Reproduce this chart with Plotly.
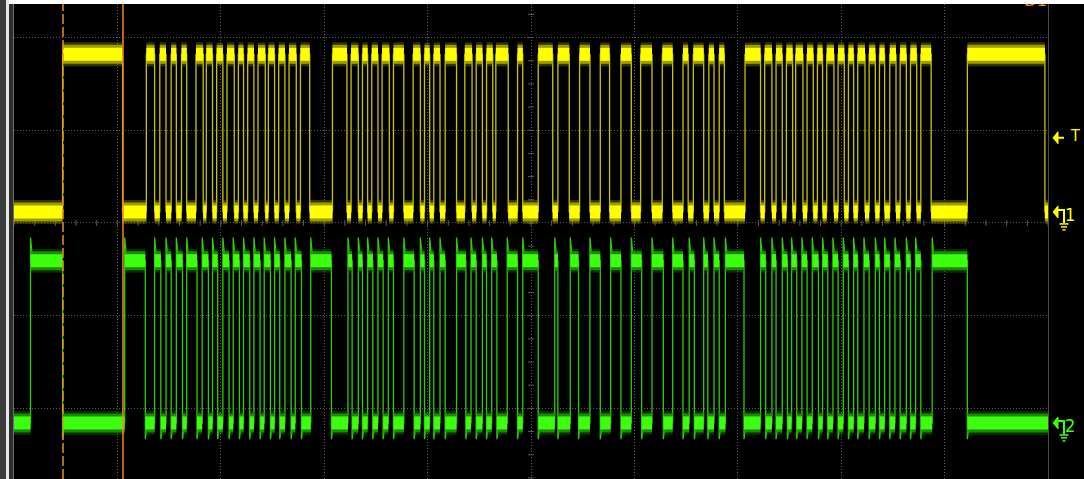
import plotly.graph_objects as go

# ---------------- data (time in µs, 100 µs/div; levels in volts) ----------------
# Channel 1 (yellow) edge times
ch1_rise_us = [47, 128, 141, 152, 162, 176, 186, 196, 206, 217,
               226, 236, 246, 256, 266, 277, 308, 326, 337, 346,
               356, 367, 386, 397, 406, 417, 436, 447, 457, 466,
               487, 507, 526, 547, 567, 587, 606, 627, 647, 657,
               672, 682, 707, 726, 737, 747, 756, 767, 777, 786,
               797, 807, 816, 827, 837, 847, 857, 867, 877, 922]
ch1_fall_us = [105, 136, 147, 157, 167, 183, 192, 202, 213, 222,
               232, 243, 252, 262, 273, 286, 322, 333, 342, 352,
               363, 377, 393, 402, 412, 428, 443, 453, 463, 478,
               492, 521, 537, 557, 576, 597, 617, 637, 652, 667,
               677, 687, 722, 733, 743, 753, 763, 773, 782, 793,
               803, 812, 823, 833, 842, 853, 863, 873, 887, 997]
# Channel 2 (green) edge times
ch2_rise_us = [16, 107, 136, 147, 157, 167, 182, 192, 202, 212,
               222, 232, 242, 252, 262, 272, 287, 323, 333, 342,
               352, 362, 377, 393, 402, 412, 428, 442, 453, 462,
               477, 492, 523, 538, 557, 577, 597, 617, 637, 653,
               667, 677, 688, 722, 733, 743, 752, 762, 772, 782,
               792, 802, 812, 822, 833, 842, 852, 863, 872, 888]
ch2_fall_us = [47, 127, 142, 152, 163, 177, 188, 197, 208, 218,
               228, 238, 248, 257, 268, 278, 307, 327, 337, 347,
               357, 367, 387, 397, 406, 417, 437, 447, 457, 467,
               487, 507, 526, 546, 567, 587, 607, 628, 647, 658,
               671, 682, 706, 727, 737, 748, 757, 767, 778, 787,
               797, 807, 816, 827, 837, 847, 857, 867, 877, 922]

ch1_levels_v = [0.0, 3.4]        # low, high
ch2_levels_v = [0.0, 3.5]        # low, high
ch2_ringing_v = [0.35, 0.5]      # undershoot on fall, overshoot on rise
cursor_us = [47.4, 105.4]
trigger_level_v = 1.6
record_us = [0, 1000]

# ---------------- scope settings ----------------
VOLTS_PER_DIV = 2.0
CH1_OFFSET_DIV = 0.119
CH2_OFFSET_DIV = -2.157
Y_RANGE = [-2.762, 2.362]
X_RANGE = [0, 1000]

W, H = 1084, 479
ML, MR, MT, MB = 14, 36, 4, 0
PW, PH = W - ML - MR, H - MT - MB
PX_PER_DIV_Y = PH / (Y_RANGE[1] - Y_RANGE[0])
PX_PER_US = PW / (X_RANGE[1] - X_RANGE[0])

YEL = "#ffff00"
YEL_HALO = "rgba(150,150,0,0.35)"
YEL_FRINGE = "rgba(175,175,0,0.85)"
YEL_EDGE = "#c9c400"
GRN = "#3cff10"
GRN_HALO = "rgba(25,130,0,0.35)"
GRN_FRINGE = "rgba(30,155,0,0.85)"
GRN_EDGE = "#2ccf00"
ORANGE = "#f28a1e"
GRID = "#5a5a5a"


def to_div(v, off):
    return off + v / VOLTS_PER_DIV


def build(rises, falls, levels, off, ringing=(0.0, 0.0), ramp=2.0):
    lo, hi = to_div(levels[0], off), to_div(levels[1], off)
    us_, os_ = ringing[0] / VOLTS_PER_DIV, ringing[1] / VOLTS_PER_DIV
    t0, t1 = record_us
    ex, ey = [t0], [lo]
    bx, by = [], []
    prev = t0
    for r, f in zip(rises, falls):
        bx += [prev, r, None, r, f, None]
        by += [lo, lo, None, hi, hi, None]
        ex += [r, r]
        ey += [lo, hi + os_]
        if os_:
            ex.append(r + ramp)
            ey.append(hi)
        ex += [f, f]
        ey += [hi, lo - us_]
        if us_:
            ex.append(f + ramp)
            ey.append(lo)
        prev = f
    bx += [prev, t1]
    by += [lo, lo]
    ex.append(t1)
    ey.append(lo)
    return ex, ey, bx, by


fig = go.Figure()

for rises, falls, levels, off, ring, core, fringe, halo, edge in [
    (ch1_rise_us, ch1_fall_us, ch1_levels_v, CH1_OFFSET_DIV, (0, 0), YEL, YEL_FRINGE, YEL_HALO, YEL_EDGE),
    (ch2_rise_us, ch2_fall_us, ch2_levels_v, CH2_OFFSET_DIV, ch2_ringing_v, GRN, GRN_FRINGE, GRN_HALO, GRN_EDGE),
]:
    ex, ey, bx, by = build(rises, falls, levels, off, ring)
    fig.add_trace(go.Scatter(x=ex, y=ey, mode="lines", line=dict(color=edge, width=1.3),
                             hoverinfo="skip"))
    fig.add_trace(go.Scatter(x=bx, y=by, mode="lines", line=dict(color=halo, width=24),
                             hoverinfo="skip"))
    fig.add_trace(go.Scatter(x=bx, y=by, mode="lines", line=dict(color=fringe, width=19),
                             hoverinfo="skip"))
    fig.add_trace(go.Scatter(x=bx, y=by, mode="lines", line=dict(color=core, width=13),
                             hoverinfo="skip"))

# "D1" label cut off at the top of the screen
fig.add_trace(go.Scatter(x=[X_RANGE[1] - 12], y=[Y_RANGE[1] + 2 / PX_PER_DIV_Y],
                         mode="text", text=["D1"], cliponaxis=True,
                         textfont=dict(color=ORANGE, size=16, family="DejaVu Sans"),
                         hoverinfo="skip"))

shapes = []

# cursors
for i, c in enumerate(cursor_us):
    shapes.append(dict(type="line", xref="x", yref="paper", x0=c, x1=c, y0=0, y1=1,
                       line=dict(color=ORANGE, width=1.5, dash="10px,3px" if i == 0 else "solid"),
                       layer="above"))

# minor ticks on centre axes
t = X_RANGE[0]
h = 3 / PX_PER_DIV_Y
while t <= X_RANGE[1]:
    shapes.append(dict(type="line", xref="x", yref="y", x0=t, x1=t, y0=-h, y1=h,
                       line=dict(color=GRID, width=1), layer="below"))
    t += 20
centre_t = (X_RANGE[0] + X_RANGE[1]) / 2
w3 = 3 / PX_PER_US
d = -2.75
while d <= Y_RANGE[1]:
    shapes.append(dict(type="line", xref="x", yref="y", x0=centre_t - w3, x1=centre_t + w3,
                       y0=d, y1=d, line=dict(color=GRID, width=1), layer="below"))
    d += 0.25


def xp(px):
    return (px - ML) / PW


def yp_px(py):
    return (H - MB - py) / PH


def div_to_py(dv):
    return MT + (Y_RANGE[1] - dv) * PX_PER_DIV_Y


# left window border stripes and top strip
for x0, x1, col in [(0, 6, "#3a3a3a"), (6, 9, "#e6e6e6"), (9, 13, "#2e2e2e"), (13, 14, "#707070")]:
    shapes.append(dict(type="rect", xref="paper", yref="paper", x0=xp(x0), x1=xp(x1),
                       y0=yp_px(H), y1=yp_px(0), fillcolor=col, line=dict(width=0), layer="above"))
shapes.append(dict(type="rect", xref="paper", yref="paper", x0=xp(9), x1=xp(W),
                   y0=yp_px(MT), y1=yp_px(0), fillcolor="#ffffff", line=dict(width=0), layer="above"))

annotations = []


def marker(py, color, label, ground):
    tip, base, stem = 1053, 1058, 1064
    shapes.append(dict(type="path", xref="paper", yref="paper",
                       path=f"M {xp(tip)},{yp_px(py)} L {xp(base)},{yp_px(py - 6)} "
                            f"L {xp(base)},{yp_px(py + 6)} Z",
                       fillcolor=color, line=dict(color=color, width=1), layer="above"))
    if ground:
        shapes.append(dict(type="path", xref="paper", yref="paper",
                           path=f"M {xp(base)},{yp_px(py - 2)} L {xp(stem)},{yp_px(py - 2)} "
                                f"L {xp(stem)},{yp_px(py + 11)}",
                           line=dict(color=color, width=2), layer="above"))
        for k, hw in enumerate([4.5, 3, 1.5]):
            yy = py + 12 + 3 * k
            shapes.append(dict(type="line", xref="paper", yref="paper",
                               x0=xp(stem - hw), x1=xp(stem + hw), y0=yp_px(yy), y1=yp_px(yy),
                               line=dict(color=color, width=1.5), layer="above"))
        annotations.append(dict(xref="paper", yref="paper", x=xp(1069.5), y=yp_px(py + 3),
                                text=label, showarrow=False, xanchor="center", yanchor="middle",
                                font=dict(color=color, size=18, family="DejaVu Sans Condensed")))
    else:
        shapes.append(dict(type="line", xref="paper", yref="paper",
                           x0=xp(base), x1=xp(stem), y0=yp_px(py), y1=yp_px(py),
                           line=dict(color=color, width=2), layer="above"))
        annotations.append(dict(xref="paper", yref="paper", x=xp(1074.5), y=yp_px(py - 2),
                                text=label, showarrow=False, xanchor="center", yanchor="middle",
                                font=dict(color=color, size=16, family="DejaVu Sans Condensed")))


marker(div_to_py(to_div(trigger_level_v, CH1_OFFSET_DIV)), YEL, "T", False)
marker(div_to_py(to_div(0, CH1_OFFSET_DIV)), YEL, "1", True)
marker(div_to_py(to_div(0, CH2_OFFSET_DIV)), GRN, "2", True)

axis_common = dict(showgrid=True, gridcolor=GRID, gridwidth=1, griddash="1px,2px",
                   zeroline=False, showticklabels=False, ticks="", fixedrange=True)
fig.update_layout(
    width=W, height=H,
    margin=dict(l=ML, r=MR, t=MT, b=MB, pad=0),
    paper_bgcolor="black", plot_bgcolor="black",
    showlegend=False,
    xaxis=dict(range=X_RANGE, tick0=0, dtick=100, showline=False, **axis_common),
    yaxis=dict(range=Y_RANGE, tick0=0, dtick=1, showline=True, mirror=True,
               linecolor="#4a4a4a", linewidth=1, **axis_common),
    shapes=shapes,
    annotations=annotations,
)

fig.write_html(
    "out.html",
    config={"displayModeBar": False},
    post_script="document.body.style.margin='0';document.body.style.padding='0';"
                "document.body.style.overflow='hidden';",
)
